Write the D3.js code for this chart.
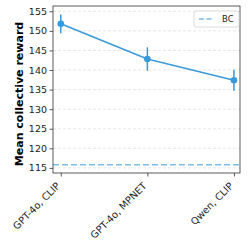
<!DOCTYPE html>
<html>
<head>
<meta charset="utf-8">
<script src="https://cdn.jsdelivr.net/npm/d3@7"></script>
<style>
  body { margin: 0; background: #fff; }
  text { font-family: "DejaVu Sans", sans-serif; }
</style>
</head>
<body>
<svg id="chart" width="249" height="249"></svg>
<script>
// data
let models = ["GPT-4o, CLIP", "GPT-4o, MPNET", "Qwen, CLIP"];
let meanReward = [151.8, 142.8, 137.4];
let errReward = [2.4, 3.0, 2.7];
let bcReward = 115.8;
let yTicks = [115, 120, 125, 130, 135, 140, 145, 150, 155];

let lineColor = "#3a9ad9";
let bcColor = "#7dbde9";

let svg = d3.select("#chart");
let plotLeft = 53, plotRight = 240, plotTop = 6, plotBottom = 173;

let x = d3.scaleLinear().domain([-0.09, 2.07]).range([plotLeft, plotRight]);
let y = d3.scaleLinear().domain([113.7, 156.35]).range([plotBottom, plotTop]);

// horizontal grid
svg.append("g")
  .selectAll("line")
  .data(yTicks)
  .join("line")
  .attr("x1", plotLeft).attr("x2", plotRight)
  .attr("y1", d => y(d)).attr("y2", d => y(d))
  .attr("stroke", "#dddddd")
  .attr("stroke-width", 0.7)
  .attr("stroke-dasharray", "3,2");

// BC baseline
svg.append("line")
  .attr("x1", plotLeft).attr("x2", plotRight)
  .attr("y1", y(bcReward)).attr("y2", y(bcReward))
  .attr("stroke", bcColor)
  .attr("stroke-width", 1.6)
  .attr("stroke-dasharray", "6,3");

// line
let line = d3.line().x((d, i) => x(i)).y(d => y(d));
svg.append("path")
  .datum(meanReward)
  .attr("d", line)
  .attr("fill", "none")
  .attr("stroke", lineColor)
  .attr("stroke-width", 1.5);

// error bars
svg.append("g")
  .selectAll("line")
  .data(meanReward)
  .join("line")
  .attr("x1", (d, i) => x(i)).attr("x2", (d, i) => x(i))
  .attr("y1", (d, i) => y(d - errReward[i]))
  .attr("y2", (d, i) => y(d + errReward[i]))
  .attr("stroke", lineColor)
  .attr("stroke-width", 1.5);

// points
svg.append("g")
  .selectAll("circle")
  .data(meanReward)
  .join("circle")
  .attr("cx", (d, i) => x(i))
  .attr("cy", d => y(d))
  .attr("r", 3.3)
  .attr("fill", lineColor);

// frame
svg.append("rect")
  .attr("x", plotLeft).attr("y", plotTop)
  .attr("width", plotRight - plotLeft).attr("height", plotBottom - plotTop)
  .attr("fill", "none")
  .attr("stroke", "#333")
  .attr("stroke-width", 0.8);

// y axis
let yAxis = svg.append("g")
  .attr("transform", "translate(" + plotLeft + ",0)")
  .call(d3.axisLeft(y).tickValues(yTicks).tickSize(3.5).tickPadding(2.5));
yAxis.select(".domain").remove();
yAxis.selectAll("line").attr("stroke", "#333").attr("stroke-width", 0.8);
yAxis.selectAll("text").attr("font-size", 9.5).attr("fill", "#222")
  .style("font-family", "DejaVu Sans");

// x axis
let xAxis = svg.append("g")
  .attr("transform", "translate(0," + plotBottom + ")")
  .call(d3.axisBottom(x).tickValues([0, 1, 2]).tickSize(3.5).tickFormat(i => models[i]));
xAxis.select(".domain").remove();
xAxis.selectAll("line").attr("stroke", "#333").attr("stroke-width", 0.8);
xAxis.selectAll("text")
  .attr("font-size", 9.8).attr("fill", "#222")
  .style("font-family", "DejaVu Sans")
  .attr("text-anchor", "end")
  .attr("dy", "0.7em")
  .attr("y", 2.3)
  .attr("x", -10)
  .attr("transform", "rotate(-45)");

// y label
svg.append("text")
  .attr("transform", "translate(23,94) rotate(-90)")
  .attr("text-anchor", "middle")
  .attr("font-size", 11)
  .attr("font-weight", "bold")
  .attr("fill", "#000")
  .text("Mean collective reward");

// legend
let lg = svg.append("g").attr("transform", "translate(194,11)");
lg.append("rect")
  .attr("width", 45).attr("height", 16).attr("rx", 2)
  .attr("fill", "#fff").attr("stroke", "#d0d0d0").attr("stroke-width", 0.8);
lg.append("line")
  .attr("x1", 5).attr("x2", 20).attr("y1", 8).attr("y2", 8)
  .attr("stroke", bcColor).attr("stroke-width", 1.6)
  .attr("stroke-dasharray", "5,2.5");
lg.append("text")
  .attr("x", 28).attr("y", 11.3)
  .attr("font-size", 8.5).attr("fill", "#222")
  .text("BC");
</script>
</body>
</html>
